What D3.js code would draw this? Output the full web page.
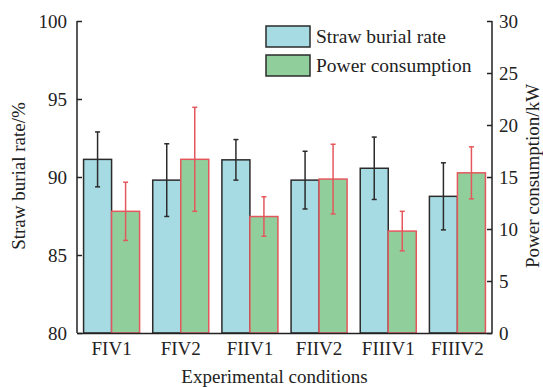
<!DOCTYPE html>
<html>
<head>
<meta charset="utf-8">
<script src="https://cdn.jsdelivr.net/npm/d3@7"></script>
<style>
  body { margin: 0; background: #fff; }
  svg { display: block; font-family: "Liberation Serif", "Times New Roman", serif; }
  .axis path, .axis line { stroke: #222; stroke-width: 1.5; }
  .axis text { font-size: 19px; fill: #222; }
</style>
</head>
<body>
<div id="chart"></div>
<script>
(function(){

  var conditions = ['FIV1', 'FIV2', 'FIIV1', 'FIIV2', 'FIIIV1', 'FIIIV2'];
  var burialRate = [91.13, 89.8, 91.1, 89.8, 90.56, 88.76];
  var burialSd   = [1.76, 2.33, 1.3, 1.85, 2.0, 2.15];
  var power      = [11.7, 16.7, 11.2, 14.8, 9.8, 15.4];
  var powerSd    = [2.8, 5.0, 1.9, 3.35, 1.9, 2.5];
  var leftTicks  = [80, 85, 90, 95, 100];
  var rightTicks = [0, 5, 10, 15, 20, 25, 30];

  var width = 543, height = 387;
  var margin = { top: 21, right: 51, bottom: 54, left: 77 };
  var innerW = width - margin.left - margin.right;
  var innerH = height - margin.top - margin.bottom;

  var x = d3.scaleBand().domain(conditions).range([0, innerW])
        .paddingInner(0.19).paddingOuter(0.095);
  var sub = d3.scaleBand().domain(['rate', 'power']).range([0, x.bandwidth()]);
  var yL = d3.scaleLinear().domain([80, 100]).range([innerH, 0]);
  var yR = d3.scaleLinear().domain([0, 30]).range([innerH, 0]);

  var svg = d3.select('#chart').append('svg')
        .attr('width', width).attr('height', height)
      .append('g')
        .attr('transform', 'translate(' + margin.left + ',' + margin.top + ')');

  var rows = conditions.map(function(c, i){
    return { c: c, rate: burialRate[i], rateSd: burialSd[i], power: power[i], powerSd: powerSd[i] };
  });

  // bars
  var g = svg.selectAll('.grp').data(rows).enter().append('g')
        .attr('class', 'grp')
        .attr('transform', function(d){ return 'translate(' + x(d.c) + ',0)'; });

  g.append('rect')
    .attr('x', sub('rate')).attr('width', sub.bandwidth())
    .attr('y', function(d){ return yL(d.rate); })
    .attr('height', function(d){ return innerH - yL(d.rate); })
    .attr('fill', '#a7dbe3').attr('stroke', '#2b2b2b').attr('stroke-width', 1.5);

  g.append('rect')
    .attr('x', sub('power')).attr('width', sub.bandwidth())
    .attr('y', function(d){ return yR(d.power); })
    .attr('height', function(d){ return innerH - yR(d.power); })
    .attr('fill', '#90cf9c').attr('stroke', '#e4575c').attr('stroke-width', 1.5);

  // error bars
  function errBar(sel, cx, top, bot, color){
    sel.append('line').attr('x1', cx).attr('x2', cx).attr('y1', top).attr('y2', bot);
    sel.append('line').attr('x1', cx - 2.5).attr('x2', cx + 2.5).attr('y1', top).attr('y2', top);
    sel.append('line').attr('x1', cx - 2.5).attr('x2', cx + 2.5).attr('y1', bot).attr('y2', bot);
    sel.selectAll('line').attr('stroke', color).attr('stroke-width', 1.5);
  }
  g.each(function(d){
    var e1 = d3.select(this).append('g');
    errBar(e1, sub('rate') + sub.bandwidth() / 2, yL(d.rate + d.rateSd), yL(d.rate - d.rateSd), '#2b2b2b');
    var e2 = d3.select(this).append('g');
    errBar(e2, sub('power') + sub.bandwidth() / 2, yR(d.power + d.powerSd), yR(d.power - d.powerSd), '#e4575c');
  });

  // axes
  var left = svg.append('g').attr('class', 'axis')
    .call(d3.axisLeft(yL).tickValues(leftTicks).tickSizeInner(-5).tickSizeOuter(0).tickPadding(10));
  left.select('.domain').attr('d', 'M0,' + innerH + 'V0');

  var right = svg.append('g').attr('class', 'axis')
    .attr('transform', 'translate(' + innerW + ',0)')
    .call(d3.axisRight(yR).tickValues(rightTicks).tickSizeInner(-5).tickSizeOuter(0).tickPadding(7));
  right.select('.domain').attr('d', 'M0,' + innerH + 'V0');

  var bottom = svg.append('g').attr('class', 'axis')
    .attr('transform', 'translate(0,' + innerH + ')')
    .call(d3.axisBottom(x).tickSize(0).tickPadding(9));

  svg.selectAll('.axis').attr('font-family', null).attr('font-size', null);

  // axis titles
  svg.append('text')
    .attr('transform', 'translate(' + (-52) + ',' + (innerH / 2 - 1) + ') rotate(-90)')
    .attr('text-anchor', 'middle').attr('font-size', 19).attr('fill', '#222')
    .text('Straw burial rate/%');

  svg.append('text')
    .attr('transform', 'translate(' + (innerW + 47) + ',' + (innerH / 2 - 1) + ') rotate(-90)')
    .attr('text-anchor', 'middle').attr('font-size', 19).attr('fill', '#222')
    .text('Power consumption/kW');

  svg.append('text')
    .attr('x', innerW / 2 - 10).attr('y', innerH + 50)
    .attr('text-anchor', 'middle').attr('font-size', 19).attr('fill', '#222')
    .text('Experimental conditions');

  // legend
  var legend = svg.append('g').attr('transform', 'translate(189,5)');
  var items = [['Straw burial rate', '#a7dbe3'], ['Power consumption', '#90cf9c']];
  items.forEach(function(it, i){
    var row = legend.append('g').attr('transform', 'translate(0,' + (i * 29) + ')');
    row.append('rect').attr('width', 44).attr('height', 21)
      .attr('fill', it[1]).attr('stroke', '#2b2b2b').attr('stroke-width', 1.5);
    row.append('text').attr('x', 50).attr('y', 17)
      .attr('font-size', 19.5).attr('fill', '#222').text(it[0]);
  });

})();
</script>
</body>
</html>
